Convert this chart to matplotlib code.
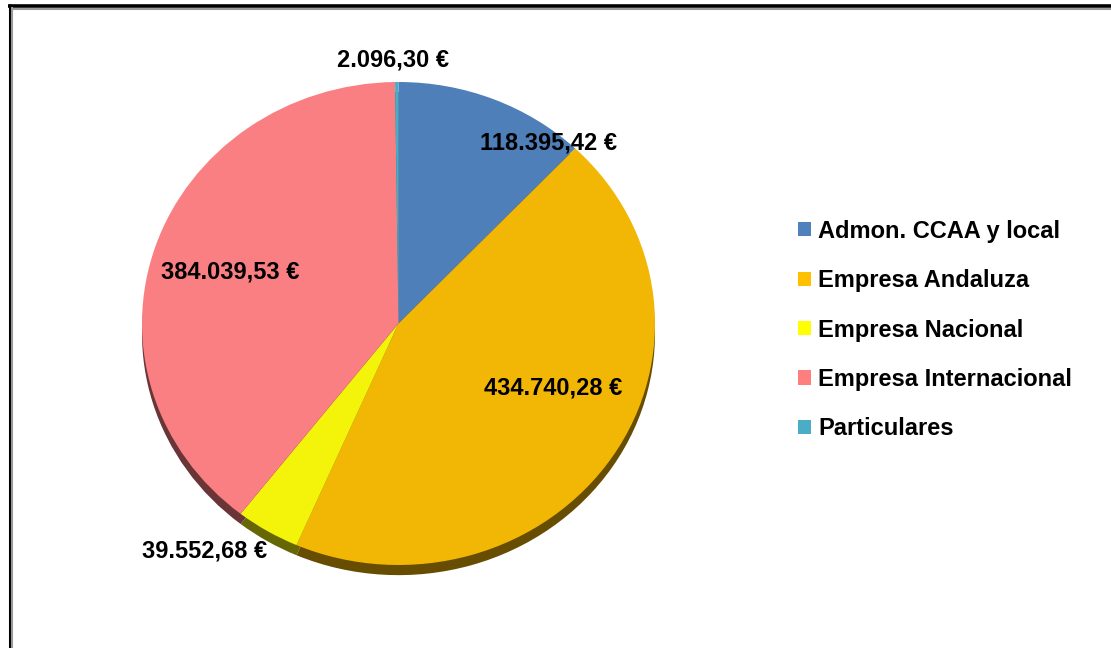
import matplotlib
matplotlib.use("Agg")
import matplotlib.pyplot as plt
from matplotlib.patches import Patch
from matplotlib.lines import Line2D
import numpy as np

categories = ["Admon. CCAA y local", "Empresa Andaluza", "Empresa Nacional",
              "Empresa Internacional", "Particulares"]
values = [118395.42, 434740.28, 39552.68, 384039.53, 2096.30]
value_labels = ["118.395,42 €", "434.740,28 €", "39.552,68 €", "384.039,53 €", "2.096,30 €"]

pie_colors = ["#4F7FB9", "#F2B705", "#F4F40A", "#F97F83", "#4BACC6"]
legend_colors = ["#4F81BD", "#FFC000", "#FFFF00", "#FF7F7F", "#4BACC6"]
# label placement in unit-pie coordinates
label_pos = [(0.583, 0.747), (0.602, -0.267), (-0.758, -0.942), (-0.657, 0.213), (-0.02, 1.091)]

plt.rcParams["font.family"] = ["Liberation Sans", "DejaVu Sans"]

W, H = 1111, 648
fig = plt.figure(figsize=(W / 100, H / 100), dpi=100)

# pie axes: unit circle stretched into the ellipse seen in the picture
ax = fig.add_axes([142 / W, (H - 565) / H, 513 / W, 483 / H])

# shadow: same pie, darker, shifted down
shadow_cols = [tuple(np.array(matplotlib.colors.to_rgb(c)) * 0.42) for c in pie_colors]
sh, _ = ax.pie(values, colors=shadow_cols, startangle=90, counterclock=False,
               center=(0, -0.042), radius=1.0, frame=True)
for w in sh:
    w.set_clip_on(False)
    w.set_linewidth(0)

wedges, texts = ax.pie(values, colors=pie_colors, startangle=90, counterclock=False,
                       labels=value_labels, labeldistance=1.0, frame=True,
                       textprops=dict(fontsize=17, fontweight="bold", color="black"))
ax.set_aspect("auto")
ax.set_xlim(-1, 1)
ax.set_ylim(-1, 1)
ax.axis("off")
for w in wedges:
    w.set_clip_on(False)
    w.set_linewidth(0)
for t, p in zip(texts, label_pos):
    t.set_position(p)
    t.set_ha("center")
    t.set_va("center")
    t.set_clip_on(False)

handles = [Patch(facecolor=c, edgecolor="none") for c in legend_colors]
fig.legend(handles, categories, loc="center left", bbox_to_anchor=(777 / W, 1 - 330 / H),
           frameon=False, prop=dict(size=17, weight="bold"),
           handlelength=0.55, handleheight=0.55, handletextpad=0.3, labelspacing=1.12)

# outer frame (only top and left visible in the crop)
fig.add_artist(Line2D([9.5 / W, 9.5 / W], [0, 1 - 4 / H], color="black", lw=2.2,
                      solid_capstyle="butt", transform=fig.transFigure))
fig.add_artist(Line2D([8 / W, 1], [1 - 5.5 / H, 1 - 5.5 / H], color="black", lw=2.6,
                      solid_capstyle="butt", transform=fig.transFigure))
fig.add_artist(Line2D([12 / W, 12 / W], [0, 1 - 7 / H], color="#999999", lw=1.5,
                      solid_capstyle="butt", transform=fig.transFigure))
fig.add_artist(Line2D([11 / W, 1], [1 - 8.5 / H, 1 - 8.5 / H], color="#999999", lw=1.5,
                      solid_capstyle="butt", transform=fig.transFigure))

fig.savefig("out.png", dpi=100)
